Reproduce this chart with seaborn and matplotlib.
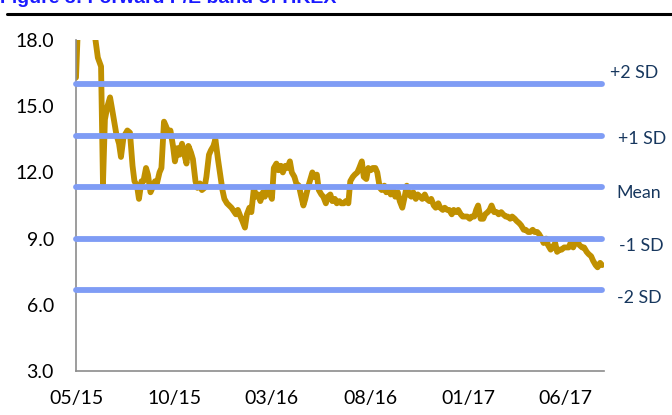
import pandas as pd
import numpy as np
import matplotlib
matplotlib.use("Agg")
import matplotlib.pyplot as plt
import matplotlib.transforms as mtransforms
from matplotlib.lines import Line2D
import seaborn as sns

# forward P/E (values above 18 are clipped in the original)
dates = [
    "2015-05-01", "2015-05-04", "2015-05-11", "2015-05-20", "2015-05-29", "2015-06-04",
    "2015-06-09", "2015-06-12", "2015-06-15", "2015-06-19", "2015-06-23", "2015-06-26",
    "2015-06-30", "2015-07-03", "2015-07-07", "2015-07-10", "2015-07-14", "2015-07-20",
    "2015-07-24", "2015-07-28", "2015-07-31", "2015-08-04", "2015-08-07", "2015-08-11",
    "2015-08-14", "2015-08-18", "2015-08-21", "2015-08-25", "2015-08-28", "2015-09-01",
    "2015-09-04", "2015-09-08", "2015-09-11", "2015-09-15", "2015-09-18", "2015-09-22",
    "2015-09-25", "2015-09-29", "2015-10-02", "2015-10-06", "2015-10-09", "2015-10-13",
    "2015-10-16", "2015-10-20", "2015-10-23", "2015-10-27", "2015-10-30", "2015-11-03",
    "2015-11-06", "2015-11-10", "2015-11-13", "2015-11-17", "2015-11-20", "2015-11-24",
    "2015-11-27", "2015-12-01", "2015-12-04", "2015-12-08", "2015-12-11", "2015-12-15",
    "2015-12-18", "2015-12-22", "2015-12-29", "2016-01-05", "2016-01-08", "2016-01-12",
    "2016-01-15", "2016-01-19", "2016-01-22", "2016-01-26", "2016-01-29", "2016-02-02",
    "2016-02-05", "2016-02-09", "2016-02-12", "2016-02-16", "2016-02-19", "2016-02-23",
    "2016-02-26", "2016-03-01", "2016-03-04", "2016-03-08", "2016-03-11", "2016-03-15",
    "2016-03-18", "2016-03-22", "2016-03-25", "2016-03-29", "2016-04-01", "2016-04-05",
    "2016-04-08", "2016-04-12", "2016-04-15", "2016-04-19", "2016-04-22", "2016-04-26",
    "2016-04-29", "2016-05-03", "2016-05-06", "2016-05-10", "2016-05-13", "2016-05-17",
    "2016-05-20", "2016-05-24", "2016-05-27", "2016-05-31", "2016-06-03", "2016-06-07",
    "2016-06-10", "2016-06-14", "2016-06-17", "2016-06-21", "2016-06-24", "2016-06-28",
    "2016-07-01", "2016-07-05", "2016-07-08", "2016-07-12", "2016-07-15", "2016-07-19",
    "2016-07-22", "2016-07-26", "2016-07-29", "2016-08-02", "2016-08-05", "2016-08-09",
    "2016-08-12", "2016-08-16", "2016-08-19", "2016-08-23", "2016-08-26", "2016-08-30",
    "2016-09-02", "2016-09-06", "2016-09-09", "2016-09-13", "2016-09-16", "2016-09-20",
    "2016-09-23", "2016-09-27", "2016-09-30", "2016-10-04", "2016-10-07", "2016-10-11",
    "2016-10-14", "2016-10-18", "2016-10-21", "2016-10-25", "2016-10-28", "2016-11-01",
    "2016-11-04", "2016-11-08", "2016-11-11", "2016-11-15", "2016-11-18", "2016-11-22",
    "2016-11-25", "2016-11-29", "2016-12-02", "2016-12-06", "2016-12-09", "2016-12-13",
    "2016-12-16", "2016-12-20", "2016-12-23", "2016-12-30", "2017-01-03", "2017-01-06",
    "2017-01-10", "2017-01-13", "2017-01-16", "2017-01-20", "2017-01-24", "2017-01-27",
    "2017-01-31", "2017-02-03", "2017-02-06", "2017-02-10", "2017-02-14", "2017-02-17",
    "2017-02-21", "2017-02-24", "2017-02-28", "2017-03-03", "2017-03-07", "2017-03-10",
    "2017-03-14", "2017-03-17", "2017-03-21", "2017-03-24", "2017-03-28", "2017-03-31",
    "2017-04-04", "2017-04-07", "2017-04-11", "2017-04-14", "2017-04-18", "2017-04-21",
    "2017-04-25", "2017-04-28", "2017-05-02", "2017-05-05", "2017-05-09", "2017-05-12",
    "2017-05-16", "2017-05-19", "2017-05-23", "2017-05-26", "2017-05-30", "2017-06-02",
    "2017-06-06", "2017-06-09", "2017-06-13", "2017-06-16", "2017-06-20", "2017-06-23",
    "2017-06-27", "2017-06-30", "2017-07-04", "2017-07-07", "2017-07-11", "2017-07-14",
    "2017-07-18", "2017-07-21", "2017-07-25", "2017-07-28",
]
pe = [
    16.3, 18.6, 20.5, 20.0, 18.5, 17.2,
    16.8, 11.5, 14.4, 15.0, 15.4, 14.9,
    14.2, 13.7, 13.3, 12.7, 13.6, 13.9,
    13.8, 12.3, 11.6, 11.4, 10.8, 11.6,
    11.6, 12.2, 11.9, 11.1, 11.3, 11.6,
    11.5, 12.0, 12.2, 14.3, 14.1, 13.8,
    13.9, 13.2, 12.5, 13.1, 12.8, 13.3,
    12.9, 12.4, 13.2, 12.9, 12.6, 11.6,
    11.3, 11.5, 11.2, 11.3, 11.8, 12.8,
    13.0, 13.2, 13.5, 12.6, 12.0, 11.2,
    10.8, 10.6, 10.4, 10.1, 10.3, 10.0,
    9.8, 9.5, 10.1, 10.4, 10.2, 11.3,
    10.9, 11.0, 10.7, 11.1, 10.9, 11.2,
    11.1, 10.8, 12.2, 12.4, 12.1, 12.3,
    12.0, 12.3, 12.2, 12.5, 12.0, 11.8,
    11.5, 11.4, 11.0, 10.5, 10.8, 11.3,
    11.6, 12.0, 11.8, 11.9, 11.2, 11.0,
    10.9, 10.6, 10.9, 11.0, 10.7, 10.8,
    10.6, 10.7, 10.6, 10.6, 10.7, 10.6,
    11.6, 11.8, 11.9, 12.0, 12.2, 12.5,
    11.8, 11.7, 12.2, 12.1, 12.2, 12.2,
    12.0, 11.3, 11.2, 11.4, 11.1, 11.3,
    11.0, 11.2, 10.9, 11.1, 10.7, 10.4,
    10.8, 11.4, 11.0, 10.9, 11.1, 10.8,
    11.0, 10.9, 10.8, 11.0, 10.8, 10.7,
    10.8, 10.5, 10.4, 10.6, 10.4, 10.3,
    10.4, 10.3, 10.3, 10.1, 10.3, 10.2,
    10.3, 10.1, 10.0, 10.0, 9.9, 10.0,
    10.0, 10.3, 10.5, 9.9, 9.9, 10.1,
    10.2, 10.3, 10.5, 10.2, 10.2, 10.1,
    10.2, 10.1, 10.0, 10.0, 9.9, 10.0,
    9.9, 9.8, 9.7, 9.6, 9.4, 9.4,
    9.3, 9.3, 9.4, 9.3, 9.3, 9.2,
    9.0, 8.8, 9.0, 8.7, 8.5, 8.6,
    8.8, 8.4, 8.5, 8.5, 8.6, 8.6,
    8.6, 8.8, 8.6, 8.8, 8.85, 8.7,
    8.6, 8.6, 8.4, 8.3, 8.2, 8.0,
    7.8, 7.7, 7.9, 7.8,
]

band_names = ["+2 SD", "+1 SD", "Mean", "-1 SD", "-2 SD"]
band_levels = [16.0, 13.66, 11.33, 9.0, 6.67]

tick_labels = ["05/15", "10/15", "03/16", "08/16", "01/17", "06/17"]
y_ticks = [3.0, 6.0, 9.0, 12.0, 15.0, 18.0]

df = pd.DataFrame({"date": pd.to_datetime(dates), "pe": pe})

sns.set_style("white")
plt.rcParams["font.family"] = ["Lato", "DejaVu Sans"]

fig = plt.figure(figsize=(6.72, 4.15), dpi=100)
ax = fig.add_axes([0.1131, 0.106, 0.7857, 0.7976])

gold = "#c09000"
band_col = "#7f9cf5"
navy = "#17375e"

sns.lineplot(data=df, x="date", y="pe", ax=ax, color=gold, linewidth=4.2,
             solid_capstyle="round", solid_joinstyle="round", zorder=2)

for lvl in band_levels:
    ax.plot([df["date"].iloc[0], df["date"].iloc[-1]], [lvl, lvl], color=band_col,
            linewidth=4.2, solid_capstyle="round", zorder=3, clip_on=False)

# labels on the right of the bands
offsets = [(6, 11), (14, -3), (12, -6), (15, -7), (13, -8)]
trans = mtransforms.blended_transform_factory(ax.transAxes, ax.transData)
for name, lvl, (dx, dy) in zip(band_names, band_levels, offsets):
    ax.annotate(name, xy=(1.0, lvl), xycoords=trans, xytext=(dx, dy),
                textcoords="offset pixels", ha="left", va="center",
                fontsize=12.8, color=navy, annotation_clip=False)

ax.set_ylim(3, 18)
ax.set_yticks(y_ticks)
ax.set_yticklabels([f"{v:.1f}" for v in y_ticks])
ax.set_xlim(pd.Timestamp("2015-05-01"), pd.Timestamp("2017-07-31"))
ax.set_xticks(pd.to_datetime(tick_labels, format="%m/%y"))
ax.set_xticklabels(tick_labels)
ax.set_xlabel("")
ax.set_ylabel("")

for side in ["top", "right"]:
    ax.spines[side].set_visible(False)
for side in ["left", "bottom"]:
    ax.spines[side].set_color("#8c8c8c")
    ax.spines[side].set_linewidth(1.2)

ax.tick_params(axis="both", which="major", direction="out", length=5, width=1.2,
               color="#8c8c8c", labelsize=14, labelcolor="black")
ax.tick_params(axis="y", pad=11)
ax.tick_params(axis="x", pad=9)

# title cut off at the top of the original picture, with the rule under it
fig.text(0.0, 1 - 3 / 415, "Figure 3: Forward P/E band of HKEX", color="#1a1aff",
         fontsize=14, fontweight="bold", va="baseline", ha="left",
         family=["Liberation Sans", "DejaVu Sans"])
fig.add_artist(Line2D([7 / 672, 1.0], [1 - 14 / 415, 1 - 14 / 415], color="black",
                      linewidth=2.2, transform=fig.transFigure))

fig.savefig("out.png", dpi=100)
